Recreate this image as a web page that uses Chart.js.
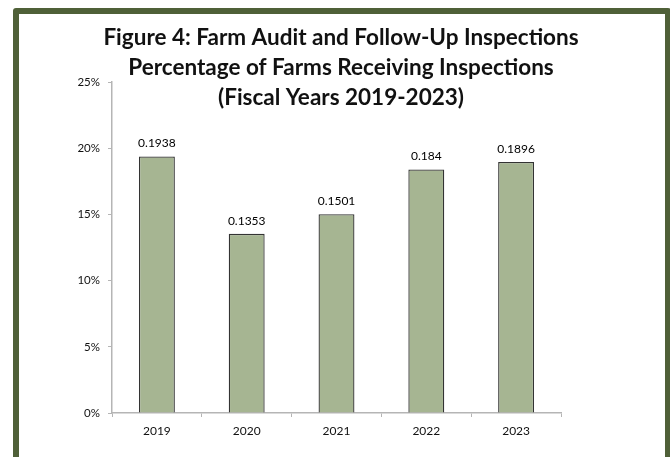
<!DOCTYPE html>
<html>
<head>
<meta charset="utf-8">
<script src="https://cdn.jsdelivr.net/npm/chart.js@4.4.1/dist/chart.umd.min.js"></script>
<style>
  html, body { margin: 0; padding: 0; background: #fff; overflow: hidden; }
  #wrap { position: relative; width: 670px; height: 457px; overflow: hidden; }
  #frame {
    position: absolute; left: 13px; top: 8px; width: 646px; height: 500px;
    border: 6px solid #4f6038; border-radius: 3px 3px 0 0;
  }
  #grafica { position: absolute; left: 0; top: 0; }
</style>
</head>
<body>
<div id="wrap">
  <div id="frame"></div>
  <canvas id="grafica" width="670" height="457"></canvas>
</div>
<script>
const anios = ["2019", "2020", "2021", "2022", "2023"];
const porcentajes = [0.1938, 0.1353, 0.1501, 0.184, 0.1896];
const etiquetasY = ["0%", "5%", "10%", "15%", "20%", "25%"];
const titulo = [
  "Figure 4: Farm Audit and Follow-Up Inspections",
  "Percentage of Farms Receiving Inspections",
  "(Fiscal Years 2019-2023)"
];

const fuente = "Lato, 'Open Sans', sans-serif";

// titulo encima del area del grafico, como en Excel
const tituloPlugin = {
  id: "tituloPlugin",
  afterDraw(chart) {
    const ctx = chart.ctx;
    ctx.save();
    ctx.fillStyle = "#111";
    ctx.font = "bold 22.5px " + fuente;
    ctx.textAlign = "center";
    ctx.textBaseline = "middle";
    titulo.forEach((linea, i) => {
      ctx.fillText(linea, 341, 38 + i * 30);
    });
    ctx.restore();
  }
};

// valores encima de cada barra
const valoresPlugin = {
  id: "valoresPlugin",
  afterDatasetsDraw(chart) {
    const ctx = chart.ctx;
    const meta = chart.getDatasetMeta(0);
    ctx.save();
    ctx.fillStyle = "#000";
    ctx.font = "12px " + fuente;
    ctx.textAlign = "center";
    ctx.textBaseline = "middle";
    meta.data.forEach((barra, i) => {
      ctx.fillText(String(porcentajes[i]), barra.x, barra.y - 13);
    });
    ctx.restore();
  }
};

const ctx = document.getElementById("grafica");
new Chart(ctx, {
  type: "bar",
  data: {
    labels: anios,
    datasets: [
      {
        data: porcentajes,
        backgroundColor: "#a6b592",
        borderColor: "#333333",
        borderWidth: 1.3,
        barPercentage: 0.4,
        categoryPercentage: 1,
      },
    ],
  },
  options: {
    responsive: false,
    animation: false,
    layout: { padding: { top: 82, right: 109, bottom: 0, left: 0 } },
    plugins: {
      legend: { display: false },
      title: { display: false },
      tooltip: { enabled: false },
    },
    scales: {
      x: {
        afterFit: (escala) => { escala.height = 44; },
        grid: { drawOnChartArea: false, drawTicks: true, tickLength: 4, color: "#b5b5b5", offset: true },
        border: { color: "#b5b5b5", width: 1.5 },
        ticks: { color: "#111", font: { family: fuente, size: 12 }, padding: 7 },
      },
      y: {
        min: 0,
        max: 0.25,
        afterFit: (escala) => { escala.width = 112; },
        grid: { drawOnChartArea: false, drawTicks: true, tickLength: 4, color: "#b5b5b5" },
        border: { color: "#b5b5b5", width: 1.5 },
        ticks: {
          stepSize: 0.05,
          color: "#111",
          font: { family: fuente, size: 11.5 },
          padding: 8,
          callback: (valor, indice) => etiquetasY[indice],
        },
      },
    },
  },
  plugins: [tituloPlugin, valoresPlugin],
});
</script>
</body>
</html>
